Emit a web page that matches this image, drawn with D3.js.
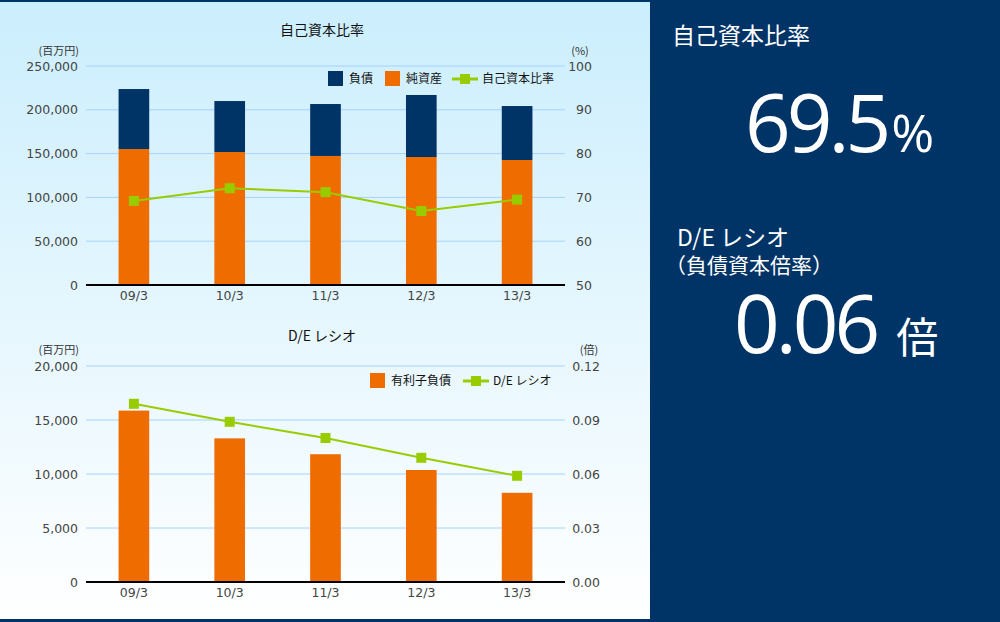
<!DOCTYPE html>
<html><head><meta charset="utf-8">
<script src="https://cdn.jsdelivr.net/npm/d3@7"></script>
<style>
html,body{margin:0;padding:0;background:#fff;}
svg{display:block;}
text{font-family:"Noto Sans CJK JP","Noto Sans",sans-serif;}
</style></head><body>
<svg id="c" width="1000" height="622"></svg>
<script>
const categories = ["09/3","10/3","11/3","12/3","13/3"];
const netAssets = [155200,151800,147300,146100,142700];   // 純資産
const liabilities = [68500,58200,59300,70800,61600];      // 負債
const equityRatio = [69.2,72.1,71.2,66.9,69.5];           // 自己資本比率
const yTicksTop = [0,50000,100000,150000,200000,250000];
const yTicksTopR = [50,60,70,80,90,100];
const interestDebt = [15870,13300,11830,10370,8260];      // 有利子負債
const deRatio = [0.099,0.089,0.080,0.069,0.059];          // D/E レシオ
const yTicksBot = [0,5000,10000,15000,20000];
const yTicksBotR = [0,0.03,0.06,0.09,0.12];

const navy = "#003366", orange = "#ee6c00", green = "#99cc00", grid = "#a6d2ff", tickCol = "#444";
const numFont = "'DejaVu Sans',sans-serif";
const svg = d3.select("#c");
const defs = svg.append("defs");
const lg = defs.append("linearGradient").attr("id","bg").attr("x1",0).attr("y1",0).attr("x2",0).attr("y2",1);
lg.append("stop").attr("offset","0%").attr("stop-color","#cbeefd");
lg.append("stop").attr("offset","100%").attr("stop-color","#ffffff");
svg.append("rect").attr("x",0).attr("y",0).attr("width",650).attr("height",622).attr("fill","url(#bg)");
svg.append("rect").attr("x",0).attr("y",0).attr("width",650).attr("height",2).attr("fill",navy);
svg.append("rect").attr("x",0).attr("y",619).attr("width",650).attr("height",3).attr("fill",navy);
svg.append("rect").attr("x",650).attr("y",0).attr("width",350).attr("height",622).attr("fill",navy);

const x = d3.scaleBand().domain(categories).range([86,565]).paddingInner(0.68).paddingOuter(0.34);

function chart(cfg){
  const g = svg.append("g");
  const y = d3.scaleLinear().domain(cfg.yDom).range([cfg.y0,cfg.y1]);
  const yr = d3.scaleLinear().domain(cfg.yrDom).range([cfg.y0,cfg.y1]);
  g.selectAll(".gl").data(cfg.ticks.slice(1)).join("line")
    .attr("x1",86).attr("x2",565).attr("y1",d=>y(d)).attr("y2",d=>y(d))
    .attr("stroke",grid).attr("stroke-width",1);
  const la = g.append("g").attr("transform","translate(86,0)")
    .call(d3.axisLeft(y).tickValues(cfg.ticks).tickSize(0).tickPadding(8).tickFormat(cfg.fmt));
  la.select(".domain").remove();
  la.selectAll("text").attr("fill",tickCol).style("font-size","12.5px").style("font-family",numFont);
  const ra = g.append("g").attr("transform",`translate(${cfg.rAlign},0)`)
    .call(d3.axisLeft(yr).tickValues(cfg.ticksR).tickSize(0).tickPadding(0).tickFormat(cfg.fmtR));
  ra.select(".domain").remove();
  ra.selectAll("text").attr("fill",tickCol).style("font-size","12.5px").style("font-family",numFont);
  cfg.stacks.forEach(s=>{
    g.selectAll(null).data(categories).join("rect")
      .attr("x",d=>x(d)).attr("width",x.bandwidth())
      .attr("y",(d,i)=>y(s.base[i]+s.vals[i])).attr("height",(d,i)=>y(s.base[i])-y(s.base[i]+s.vals[i]))
      .attr("fill",s.color);
  });
  g.append("line").attr("x1",86).attr("x2",565).attr("y1",y(cfg.yDom[0])).attr("y2",y(cfg.yDom[0])).attr("stroke","#000").attr("stroke-width",2);
  const xa = g.append("g").attr("transform",`translate(0,${cfg.y0})`).call(d3.axisBottom(x).tickSize(0).tickPadding(6));
  xa.select(".domain").remove();
  xa.selectAll("text").attr("fill",tickCol).style("font-size","12.5px").style("font-family",numFont);
  const line = d3.line().x((d,i)=>x(categories[i])+x.bandwidth()/2).y(d=>yr(d));
  g.append("path").attr("d",line(cfg.line)).attr("fill","none").attr("stroke",green).attr("stroke-width",2);
  g.selectAll(null).data(cfg.line).join("rect")
    .attr("x",(d,i)=>x(categories[i])+x.bandwidth()/2-5).attr("y",d=>yr(d)-5)
    .attr("width",10).attr("height",10).attr("fill",green);
  g.append("text").attr("x",322).attr("y",cfg.titleY).attr("text-anchor","middle").attr("fill","#111").style("font-size","14px").text(cfg.title);
  g.append("text").attr("x",79).attr("y",cfg.unitY).attr("text-anchor","end").attr("fill","#333").style("font-size","11px").text("(百万円)");
  g.append("text").attr("x",cfg.unitRX).attr("y",cfg.unitY).attr("text-anchor","middle").attr("fill","#333").style("font-size","11px").text(cfg.unitR);
  let lx = cfg.legX;
  cfg.legend.forEach(l=>{
    if(l.type==="box"){
      g.append("rect").attr("x",lx).attr("y",cfg.legY-7).attr("width",15).attr("height",15).attr("fill",l.color);
      lx+=21;
    } else {
      g.append("line").attr("x1",lx).attr("x2",lx+26).attr("y1",cfg.legY+1).attr("y2",cfg.legY+1).attr("stroke",green).attr("stroke-width",3);
      g.append("rect").attr("x",lx+8).attr("y",cfg.legY-4).attr("width",10).attr("height",10).attr("fill",green);
      lx+=30;
    }
    const t = g.append("text").attr("x",lx).attr("y",cfg.legY+5).attr("fill","#111").style("font-size","12px").text(l.label);
    lx += t.node().getComputedTextLength()+l.gap;
  });
}

chart({yDom:[0,250000], y0:285, y1:66, yrDom:[50,100], ticks:yTicksTop, ticksR:yTicksTopR,
  fmt:d3.format(","), fmtR:d3.format("d"), rAlign:592,
  stacks:[{vals:netAssets, base:categories.map(()=>0), color:orange},
          {vals:liabilities, base:netAssets, color:navy}],
  line:equityRatio, title:"自己資本比率", titleY:35, unitY:55, unitR:"(%)", unitRX:580,
  legX:328, legY:78,
  legend:[{type:"box",color:navy,label:"負債",gap:12},{type:"box",color:orange,label:"純資産",gap:10},{type:"line",label:"自己資本比率",gap:0}]});

chart({yDom:[0,20000], y0:582, y1:366, yrDom:[0,0.12], ticks:yTicksBot, ticksR:yTicksBotR,
  fmt:d3.format(","), fmtR:d3.format(".2f"), rAlign:600,
  stacks:[{vals:interestDebt, base:categories.map(()=>0), color:orange}],
  line:deRatio, title:"D/E レシオ", titleY:341, unitY:354, unitR:"(倍)", unitRX:589,
  legX:370, legY:380,
  legend:[{type:"box",color:orange,label:"有利子負債",gap:12},{type:"line",label:"D/E レシオ",gap:0}]});

// right panel
const rp = svg.append("g");
rp.append("text").attr("x",672).attr("y",44).style("font-size","23px").attr("fill","#fff").text("自己資本比率");
const t1 = rp.append("text").attr("x",745).attr("y",152).attr("fill","#fff").style("font-family","'Open Sans',sans-serif");
t1.append("tspan").style("font-size","80px").attr("letter-spacing","-4").text(equityRatio[4].toFixed(1));
t1.append("tspan").style("font-size","52px").attr("dx","4").text("%");
const de = rp.append("text").attr("fill","#fff");
de.append("tspan").attr("x",677).attr("y",246).style("font-size","23px").text("D/E レシオ");
de.append("tspan").attr("x",665).attr("y",273).style("font-size","21px").text("（負債資本倍率）");
const t2 = rp.append("text").attr("x",734).attr("y",353).attr("fill","#fff").style("font-family","'Open Sans',sans-serif");
t2.append("tspan").style("font-size","80px").attr("letter-spacing","-4").text("0.06");
t2.append("tspan").style("font-size","42px").attr("dx","20").style("font-family","'Noto Sans CJK JP',sans-serif").text("倍");
</script></body></html>
